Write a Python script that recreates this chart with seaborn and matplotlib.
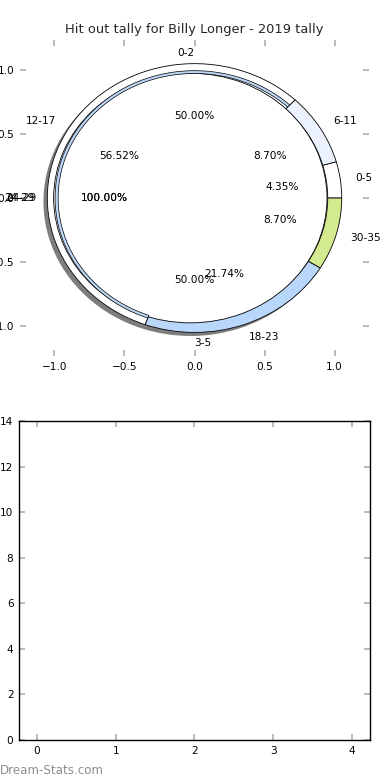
import matplotlib
matplotlib.use("Agg")
import matplotlib.pyplot as plt
import seaborn as sns
import numpy as np

# ---- data ----
title = "Hit out tally for Billy Longer - 2019 tally"
range_labels = ["0-5", "6-11", "12-17", "18-23", "30-35"]
range_counts = [1, 2, 13, 5, 2]
range_colors = ["#ffffff", "#ebf2fd", "#ffffff", "#b9d6fb", "#d3ea8e"]
strip_colors = ["none", "none", "#bcd6f7", "none", "none"]

split_labels = ["0-2", "3-5"]
split_counts = [1, 1]

single_labels = ["24-29"]
single_counts = [1]

bottom_categories = ["0", "1", "2", "3", "4"]
bottom_values = [0, 0, 0, 0, 0]

pie_xticks = [-1.0, -0.5, 0.0, 0.5, 1.0]
pie_yticks = [-1.0, -0.5, 0.0, 0.5, 1.0]
bottom_yticks = [0, 2, 4, 6, 8, 10, 12, 14]

# ---- style ----
sns.set_theme(style="white")
plt.rcParams["font.family"] = ["DejaVu Sans"]
FS = 7.6
TICK_GREY = "#b5b5b5"

fig = plt.figure(figsize=(3.9, 7.8), dpi=100)
ax1 = fig.add_axes([0.0513, 0.5436, 0.895, 0.405])
ax2 = fig.add_axes([0.0487, 0.0513, 0.9, 0.409])

tp = dict(fontsize=FS, color="black")
hidden = dict(facecolor="none", edgecolor="none")

# base layer: full white wedges carrying the shadow
ax1.pie(range_counts, colors=["white"] * len(range_counts), startangle=0,
        radius=1.05, shadow=dict(ox=-0.02, oy=-0.02, shade=0.85, alpha=0.6),
        wedgeprops=dict(linewidth=0))
# coloured ring
ax1.pie(range_counts, labels=range_labels, colors=range_colors,
        autopct="%1.2f%%", pctdistance=0.6, labeldistance=1.1,
        startangle=0, radius=1.05,
        wedgeprops=dict(width=0.1, edgecolor="black", linewidth=0.6),
        textprops=tp)
# white inner disc (single-value pie)
ax1.pie(single_counts, labels=single_labels, colors=["white"],
        autopct="%1.2f%%", pctdistance=0.63, labeldistance=1.14,
        startangle=0, radius=0.975, center=(-0.03, 0),
        wedgeprops=dict(width=0.975, edgecolor="black", linewidth=0.6),
        textprops=tp)
# second single-value pie, labels only
ax1.pie(single_counts, labels=single_labels, autopct="%1.2f%%",
        pctdistance=0.61, labeldistance=1.075, startangle=0, radius=1.05,
        wedgeprops=hidden, textprops=tp)
# inner strip for the 12-17 segment
strip = ax1.pie(range_counts, colors=strip_colors, startangle=0, radius=0.995,
                wedgeprops=dict(width=0.022, edgecolor="black", linewidth=0.5))
for w in strip[0]:
    if w.get_facecolor()[3] == 0:
        w.set_edgecolor("none")
# split pie (labels only)
ax1.pie(split_counts, labels=split_labels, autopct="%1.2f%%",
        pctdistance=0.62, labeldistance=1.1, startangle=0, radius=1.03,
        wedgeprops=hidden, textprops=tp)

ax1.set_aspect("auto")
ax1.set_frame_on(False)
ax1.set_xlim(-1.245, 1.245)
ax1.set_ylim(-1.234, 1.234)
ax1.set_xticks(pie_xticks)
ax1.set_yticks(pie_yticks)
ax1.set_xticklabels([f"{v:.1f}".replace("-", "\u2212") for v in pie_xticks])
ax1.set_yticklabels([f"{v:.1f}".replace("-", "\u2212") for v in pie_yticks])
ax1.set_title(title, fontsize=9.4, pad=5)

# bottom (empty bar chart)
sns.barplot(x=bottom_categories, y=bottom_values, ax=ax2, color="#b9d6fb",
            linewidth=0)
ax2.set_xlim(-0.229, 4.229)
ax2.set_ylim(0, 14)
ax2.set_yticks(bottom_yticks)
ax2.set_xlabel("")
ax2.set_ylabel("")
for s in ax2.spines.values():
    s.set_visible(True)
    s.set_color("black")
    s.set_linewidth(1.0)

for ax in (ax1, ax2):
    ax.tick_params(axis="both", which="major", direction="in", length=4,
                   width=1.3, color=TICK_GREY, labelsize=FS, labelcolor="black",
                   top=True, right=True, bottom=True, left=True, pad=4)

fig.text(0.0, 0.004, "Dream-Stats.com", fontsize=8.6, color="#8e8e8e",
         ha="left", va="bottom")

fig.savefig("out.png", dpi=100)
